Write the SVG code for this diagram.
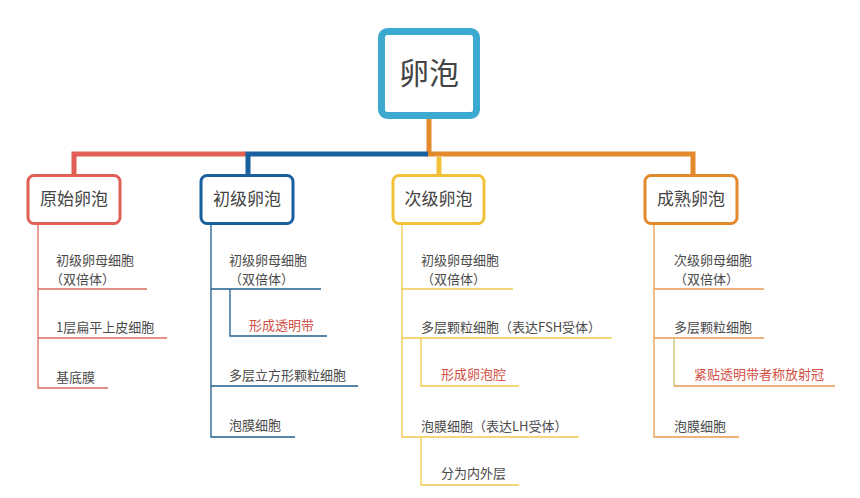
<svg xmlns="http://www.w3.org/2000/svg" width="860" height="498" viewBox="0 0 860 498">
<style>
.t{font-family:"Noto Sans CJK SC","Noto Sans",sans-serif;font-size:13px;fill:#4a4a4a}
.r{fill:#d24f45}
.h{font-family:"Noto Sans CJK SC","Noto Sans",sans-serif;font-size:17px;fill:#444;text-anchor:middle}
.box{fill:#fff;stroke-width:3}
.l{fill:none;stroke-width:1.3}
.b{fill:none;stroke-width:5}
</style>
<rect width="860" height="498" fill="#fff"/>
<g id="connectors">
<path class="b" stroke="#e2892e" d="M429 118V154H693V176"/>
<path class="b" stroke="#e06055" d="M74 176V154H246"/>
<path class="b" stroke="#1a5f9e" d="M248 176V154H428"/>
<path class="b" stroke="#f2c13a" d="M439 157V176"/>
<path class="l" stroke="#e06a60" d="M38 224V388H108M38 289H147M38 338H167"/>
<path class="l" stroke="#1f5f8f" d="M211 224V437H295M211 289H321M230 289V336H327M211 386H358"/>
<path class="l" stroke="#f2c94c" d="M402 224V437H579M402 289H513M402 338H612M421 338V386H519M421 437V485H519"/>
<path class="l" stroke="#e89a50" d="M654 224V437H739M654 289H764M654 338H764"/>
<path class="l" stroke="#c8c060" d="M674 338V386"/>
<path class="l" stroke="#e89a50" d="M674 386H835"/>
</g>
<g id="root">
<rect x="381.5" y="31.5" width="95" height="84" rx="6" fill="#fff" stroke="#3ca9d0" stroke-width="7"/>
<text x="429" y="84" font-family="'Noto Sans CJK SC',sans-serif" font-size="30" fill="#444" text-anchor="middle">卵泡</text>
</g>
<g id="n1">
<rect class="box" x="28" y="175.5" width="92" height="48" rx="6" stroke="#e06055"/>
<text class="h" x="74" y="205">原始卵泡</text>
<text class="t" x="56" y="265">初级卵母细胞</text>
<text class="t" x="50" y="284">（双倍体）</text>
<text class="t" x="56" y="332">1层扁平上皮细胞</text>
<text class="t" x="56" y="382">基底膜</text>
</g>
<g id="n2">
<rect class="box" x="201" y="175.5" width="92" height="48" rx="6" stroke="#1a5f9e"/>
<text class="h" x="247" y="205">初级卵泡</text>
<text class="t" x="229" y="265">初级卵母细胞</text>
<text class="t" x="229" y="284">（双倍体）</text>
<text class="t r" x="249" y="330">形成透明带</text>
<text class="t" x="229" y="380">多层立方形颗粒细胞</text>
<text class="t" x="229" y="430">泡膜细胞</text>
</g>
<g id="n3">
<rect class="box" x="393" y="175.5" width="91" height="48" rx="6" stroke="#f2c13a"/>
<text class="h" x="438.5" y="205">次级卵泡</text>
<text class="t" x="421" y="265">初级卵母细胞</text>
<text class="t" x="421" y="284">（双倍体）</text>
<text class="t" x="421" y="332">多层颗粒细胞（表达FSH受体）</text>
<text class="t r" x="441" y="379">形成卵泡腔</text>
<text class="t" x="421" y="431">泡膜细胞（表达LH受体）</text>
<text class="t" x="441" y="478">分为内外层</text>
</g>
<g id="n4">
<rect class="box" x="645" y="175.5" width="92" height="48" rx="6" stroke="#e2892e"/>
<text class="h" x="691" y="205">成熟卵泡</text>
<text class="t" x="674" y="265">次级卵母细胞</text>
<text class="t" x="674" y="284">（双倍体）</text>
<text class="t" x="674" y="332">多层颗粒细胞</text>
<text class="t r" x="694" y="379">紧贴透明带者称放射冠</text>
<text class="t" x="674" y="431">泡膜细胞</text>
</g>
</svg>
